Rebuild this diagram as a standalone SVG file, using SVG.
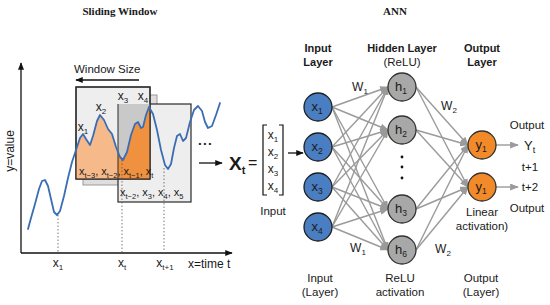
<svg xmlns="http://www.w3.org/2000/svg" width="550" height="305" viewBox="0 0 550 305">
<defs>
<style>
text{font-family:"Liberation Sans",Arial,sans-serif;fill:#1a1a1a;}
.t{font-size:11px;}
.h{font-size:11px;font-weight:bold;text-anchor:middle;}
.title{font-family:"Liberation Serif","Times New Roman",serif;font-size:11px;font-weight:bold;text-anchor:middle;}
.n{font-size:13px;text-anchor:middle;}
.c{text-anchor:middle;}
.in{fill:#4a7ec2;stroke:#1f1f1f;stroke-width:1.3;}
.hid{fill:#a8a8a8;stroke:#333;stroke-width:1.3;}
.out{fill:#f28a2a;stroke:#333;stroke-width:1.3;}
.e{stroke:#9a9a9a;stroke-width:1.4;fill:none;marker-end:url(#ga);}
.dot{stroke:#555;stroke-width:0.8;stroke-dasharray:1.5 2;}
</style>
<marker id="ga" viewBox="0 0 10 8" refX="9" refY="4" markerWidth="9" markerHeight="7" markerUnits="userSpaceOnUse" orient="auto">
<path d="M0,0 L10,4 L0,8 z" fill="#9a9a9a"/>
</marker>
<marker id="ba" viewBox="0 0 10 8" refX="9" refY="4" markerWidth="8" markerHeight="6" markerUnits="userSpaceOnUse" orient="auto">
<path d="M0,0 L10,4 L0,8 z" fill="#111"/>
</marker>
<clipPath id="leftA"><rect x="76" y="87" width="42" height="93"/></clipPath>
<clipPath id="rightA"><rect x="118" y="87" width="32" height="93"/></clipPath>
</defs>
<rect width="550" height="305" fill="#fff"/>

<text class="title" x="120" y="15">Sliding Window</text>
<text class="title" x="395" y="15">ANN</text>

<g id="sliding-window">
<!-- axes -->
<line x1="21" y1="253" x2="21" y2="63" stroke="#111" stroke-width="1.3" marker-end="url(#ba)"/>
<line x1="21" y1="253" x2="232" y2="253" stroke="#111" stroke-width="1.3" marker-end="url(#ba)"/>
<text class="t c" transform="translate(14,151) rotate(-90)" style="font-size:12px">y=value</text>
<text class="t" x="188" y="268" style="font-size:12px">x=time t</text>
<text class="t c" x="58" y="267" style="font-size:12px">x<tspan font-size="8" dy="3">1</tspan></text>
<text class="t c" x="122" y="267" style="font-size:12px">x<tspan font-size="8" dy="3">t</tspan></text>
<text class="t c" x="165" y="267" style="font-size:12px">x<tspan font-size="8" dy="3">t+1</tspan></text>

<!-- window size arrow -->
<text class="t" x="74" y="73" style="font-size:11.5px">Window Size</text>
<line x1="139" y1="80" x2="76" y2="80" stroke="#111" stroke-width="1.3" marker-end="url(#ba)"/>

<!-- boxes -->
<rect x="83" y="95" width="74" height="90" fill="#dedede" stroke="#9a9a9a" stroke-width="1"/>
<rect x="118" y="104" width="73" height="98" fill="#eeeeee" stroke="#2a2a2a" stroke-width="1.2"/>
<rect x="76" y="87" width="74" height="92" fill="#eeeeee" stroke="#2a2a2a" stroke-width="1.2"/>
<rect x="118" y="104" width="32" height="75" fill="#c9c9c9"/>
<path clip-path="url(#leftA)" fill="#f6b98a" d="M76,150 L80,138 L83,134 L86,139 L90,145 L93,136 L97,121 L100,115 L104,120 L108,129 L112,134 L116,147 L120,157 L123,160 L127,152 L131,135 L135,124 L138,122 L141,128 L143,127 L146,115 L149,107 L151,109 L151,179 L76,179 Z"/>
<path clip-path="url(#rightA)" fill="#f0913f" d="M76,150 L80,138 L83,134 L86,139 L90,145 L93,136 L97,121 L100,115 L104,120 L108,129 L112,134 L116,147 L120,157 L123,160 L127,152 L131,135 L135,124 L138,122 L141,128 L143,127 L146,115 L149,107 L151,109 L151,179 L76,179 Z"/>
<line x1="118" y1="104" x2="118" y2="179" stroke="#2a2a2a" stroke-width="1"/>
<rect x="76" y="87" width="74" height="92" fill="none" stroke="#2a2a2a" stroke-width="1.2"/>

<!-- dotted guides -->
<line class="dot" x1="58" y1="215" x2="58" y2="253"/>
<line class="dot" x1="122" y1="160" x2="122" y2="253"/>
<line class="dot" x1="164" y1="168" x2="164" y2="253"/>

<!-- series -->
<path fill="none" stroke="#3b6db3" stroke-width="1.8" stroke-linejoin="round" stroke-linecap="round" d="M28,229 L31,218 L35,204 L39,189 L42,181 L45,180 L48,186 L51,199 L54,212 L57,215 L60,211 L64,196 L68,178 L72,162 L76,150 L80,138 L83,134 L86,139 L90,145 L93,136 L97,121 L100,115 L104,120 L108,129 L112,134 L116,147 L120,157 L123,160 L127,152 L131,135 L135,124 L138,122 L141,128 L143,127 L146,115 L149,107 L153,114 L157,130 L161,150 L165,165 L168,169 L171,164 L174,148 L177,136 L180,134 L183,141 L186,138 L190,122 L194,110 L198,106 L202,111 L205,122 L208,128 L212,126 L216,115 L220,103"/>

<!-- window labels -->
<text class="t c" x="83" y="131" style="font-size:12px">x<tspan font-size="8" dy="3">1</tspan></text>
<text class="t c" x="101" y="111" style="font-size:12px">x<tspan font-size="8" dy="3">2</tspan></text>
<text class="t c" x="123" y="100" style="font-size:12px">x<tspan font-size="8" dy="3">3</tspan></text>
<text class="t c" x="143" y="100" style="font-size:12px">x<tspan font-size="8" dy="3">4</tspan></text>
<text class="t" x="79" y="175">x<tspan font-size="7.5" dy="2.5">t−3</tspan><tspan dy="-2.5">, x</tspan><tspan font-size="7.5" dy="2.5">t−2</tspan><tspan dy="-2.5">, x</tspan><tspan font-size="7.5" dy="2.5">t−1</tspan><tspan dy="-2.5">, x</tspan><tspan font-size="7.5" dy="2.5">t</tspan></text>
<text class="t" x="120" y="196">x<tspan font-size="7.5" dy="2.5">t−2</tspan><tspan dy="-2.5">, x</tspan><tspan font-size="7.5" dy="2.5">3</tspan><tspan dy="-2.5">, x</tspan><tspan font-size="7.5" dy="2.5">4</tspan><tspan dy="-2.5">, x</tspan><tspan font-size="7.5" dy="2.5">5</tspan></text>
<text class="t c" x="205" y="146" style="font-size:8px;font-weight:bold">• • •</text>
</g>

<g id="xt-vector">
<line x1="199" y1="163" x2="222" y2="163" stroke="#111" stroke-width="1.3" marker-end="url(#ba)"/>
<text x="229" y="170" style="font-size:19px;font-weight:bold">X<tspan font-size="11" dy="4">t</tspan></text>
<text x="248" y="168" style="font-size:16px">=</text>
<path d="M267,125 H263 V195 H267 M279,125 H283 V195 H279" fill="none" stroke="#111" stroke-width="1.2"/>
<text class="t c" x="273" y="139" style="font-size:12px">x<tspan font-size="8" dy="3">1</tspan></text>
<text class="t c" x="273" y="156" style="font-size:12px">x<tspan font-size="8" dy="3">2</tspan></text>
<text class="t c" x="273" y="173" style="font-size:12px">x<tspan font-size="8" dy="3">3</tspan></text>
<text class="t c" x="273" y="190" style="font-size:12px">x<tspan font-size="8" dy="3">4</tspan></text>
<line x1="288" y1="153" x2="303" y2="153" stroke="#111" stroke-width="1.3" marker-end="url(#ba)"/>
<text class="t c" x="273" y="215" style="font-size:11.5px">Input</text>
</g>

<g id="connectors">
<path class="e" d="M332,107 L388,87"/><path class="e" d="M332,107 L388,130"/><path class="e" d="M332,107 L388,209"/><path class="e" d="M332,107 L388,250"/>
<path class="e" d="M332,147 L388,87"/><path class="e" d="M332,147 L388,130"/><path class="e" d="M332,147 L388,209"/><path class="e" d="M332,147 L388,250"/>
<path class="e" d="M332,187 L388,87"/><path class="e" d="M332,187 L388,130"/><path class="e" d="M332,187 L388,209"/><path class="e" d="M332,187 L388,250"/>
<path class="e" d="M332,227 L388,87"/><path class="e" d="M332,227 L388,130"/><path class="e" d="M332,227 L388,209"/><path class="e" d="M332,227 L388,250"/>
<path class="e" d="M416,87 L468,145"/><path class="e" d="M416,87 L468,187"/>
<path class="e" d="M416,130 L468,145"/><path class="e" d="M416,130 L468,187"/>
<path class="e" d="M416,209 L468,145"/><path class="e" d="M416,209 L468,187"/>
<path class="e" d="M416,250 L468,145"/><path class="e" d="M416,250 L468,187"/>
<path class="e" d="M496,145 L518,145"/>
<path class="e" d="M496,187 L518,187"/>
</g>

<g id="input-layer">
<text class="h" x="318" y="52">Input</text>
<text class="h" x="318" y="66">Layer</text>
<circle class="in" cx="318" cy="107" r="14"/><text class="n" x="317" y="111">x<tspan font-size="8.5" dy="3">1</tspan></text>
<circle class="in" cx="318" cy="147" r="14"/><text class="n" x="317" y="151">x<tspan font-size="8.5" dy="3">2</tspan></text>
<circle class="in" cx="318" cy="187" r="14"/><text class="n" x="317" y="191">x<tspan font-size="8.5" dy="3">3</tspan></text>
<circle class="in" cx="318" cy="227" r="14"/><text class="n" x="317" y="231">x<tspan font-size="8.5" dy="3">4</tspan></text>
<text class="t c" x="320" y="282" style="font-size:11.5px">Input</text>
<text class="t c" x="320" y="296" style="font-size:11.5px">(Layer)</text>
</g>

<g id="hidden-layer">
<text class="h" x="402" y="52">Hidden Layer</text>
<text class="t c" x="402" y="66" style="font-size:11.5px">(ReLU)</text>
<circle class="hid" cx="402" cy="87" r="14"/><text class="n" x="401" y="91">h<tspan font-size="8.5" dy="3">1</tspan></text>
<circle class="hid" cx="402" cy="130" r="14"/><text class="n" x="401" y="134">h<tspan font-size="8.5" dy="3">2</tspan></text>
<circle cx="402" cy="157" r="1.4" fill="#111"/><circle cx="402" cy="167" r="1.4" fill="#111"/><circle cx="402" cy="178" r="1.4" fill="#111"/>
<circle class="hid" cx="402" cy="209" r="14"/><text class="n" x="401" y="213">h<tspan font-size="8.5" dy="3">3</tspan></text>
<circle class="hid" cx="402" cy="250" r="14"/><text class="n" x="401" y="254">h<tspan font-size="8.5" dy="3">6</tspan></text>
<text class="t c" x="400" y="282" style="font-size:11.5px">ReLU</text>
<text class="t c" x="400" y="296" style="font-size:11.5px">activation</text>
</g>

<g id="weights">
<text class="t c" x="360" y="91" style="font-size:12px">W<tspan font-size="8" dy="3">1</tspan></text>
<text class="t c" x="358" y="252" style="font-size:12px">W<tspan font-size="8" dy="3">1</tspan></text>
<text class="t c" x="449" y="110" style="font-size:12px">W<tspan font-size="8" dy="3">2</tspan></text>
<text class="t c" x="443" y="253" style="font-size:12px">W<tspan font-size="8" dy="3">2</tspan></text>
</g>

<g id="output-layer">
<text class="h" x="482" y="52">Output</text>
<text class="h" x="482" y="66">Layer</text>
<circle class="out" cx="482" cy="145" r="14"/><text class="n" x="481" y="149">y<tspan font-size="8.5" dy="3">1</tspan></text>
<circle class="out" cx="482" cy="187" r="14"/><text class="n" x="481" y="191">y<tspan font-size="8.5" dy="3">1</tspan></text>
<text class="t c" x="482" y="216" style="font-size:11.5px">Linear</text>
<text class="t c" x="482" y="230" style="font-size:11.5px">activation)</text>
<text class="t c" x="481" y="282" style="font-size:11.5px">Output</text>
<text class="t c" x="481" y="296" style="font-size:11.5px">(Layer)</text>
</g>

<g id="outputs">
<text class="t c" x="527" y="129" style="font-size:11.5px">Output</text>
<text class="t" x="524" y="150" style="font-size:13px">Y<tspan font-size="9" dy="3">t</tspan></text>
<text class="t c" x="530" y="171" style="font-size:11.5px">t+1</text>
<text class="t c" x="530" y="191" style="font-size:11.5px">t+2</text>
<text class="t c" x="527" y="212" style="font-size:11.5px">Output</text>
</g>
</svg>
